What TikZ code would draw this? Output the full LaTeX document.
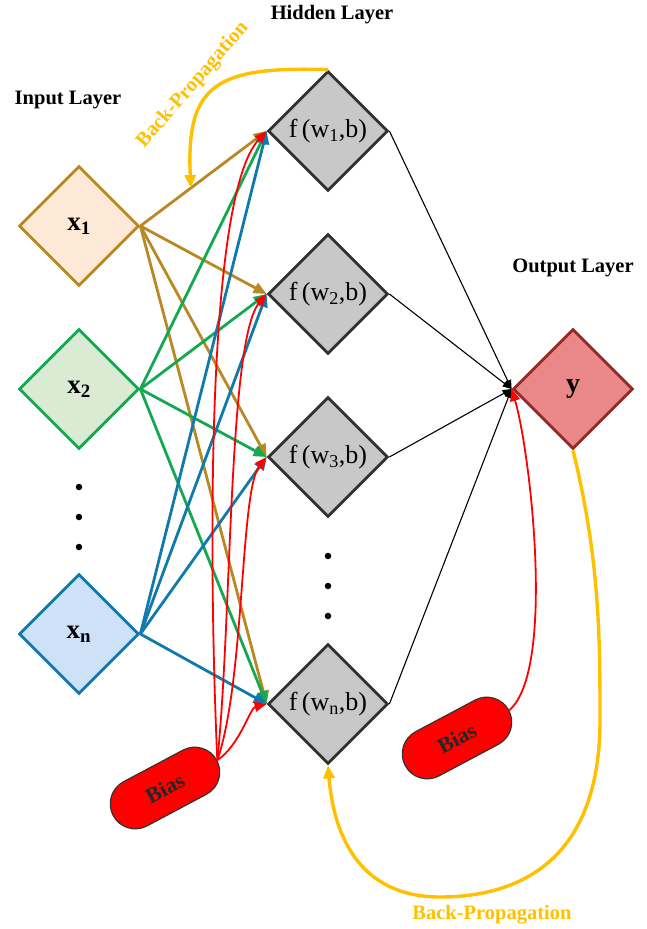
\documentclass[tikz,border=0pt]{standalone}
\usepackage{fontspec}
\setmainfont{Liberation Serif}
\usetikzlibrary{shapes.geometric,shapes.misc,arrows.meta}
\definecolor{cA}{RGB}{184,136,34}
\definecolor{fA}{RGB}{253,233,213}
\definecolor{cB}{RGB}{20,168,80}
\definecolor{fB}{RGB}{217,235,211}
\definecolor{cC}{RGB}{16,122,172}
\definecolor{fC}{RGB}{205,226,246}
\definecolor{cO}{RGB}{255,192,0}
\definecolor{fY}{RGB}{232,136,136}
\definecolor{cY}{RGB}{150,40,40}
\definecolor{fH}{RGB}{200,200,200}
\definecolor{cH}{RGB}{50,50,50}
\begin{document}
\begin{tikzpicture}[x=1pt,y=-1pt,
  dia/.style={diamond,aspect=1,minimum width=120pt,minimum height=120pt,inner sep=0pt,line width=2.8pt},
  inp/.style={dia,font=\fontsize{27}{29}\selectfont\bfseries},
  hid/.style={dia,draw=cH,fill=fH,font=\fontsize{26}{28}\selectfont},
  biasbox/.style={rounded rectangle,draw=cH,fill=red,line width=1.2pt,minimum width=124pt,minimum height=50pt,rotate=28,font=\fontsize{22}{24}\selectfont\bfseries,text=black!85},
  lbl/.style={font=\fontsize{20.5}{22}\selectfont\bfseries},
  conn/.style={line width=2.8pt,-{Triangle[length=13pt,width=11pt]}},
  rconn/.style={red,line width=1.8pt,-{Triangle[length=12pt,width=10pt]}},
  kconn/.style={black,line width=1.1pt,-{Triangle[length=9pt,width=7pt]}},
  bp/.style={cO,line width=3.4pt,-{Triangle[length=13pt,width=11pt]}},
  dotmark/.style={circle,fill=black,inner sep=0pt,minimum size=6.5pt}
]
\useasboundingbox (0,0) rectangle (646,929);
% input nodes
\node[inp,draw=cA,fill=fA] (x1) at (79,226) {x\textsubscript{1}};
\node[inp,draw=cB,fill=fB] (x2) at (79,389) {x\textsubscript{2}};
\node[inp,draw=cC,fill=fC] (xn) at (79,634) {x\textsubscript{n}};
\node[dotmark] (di1) at (79,487) {};
\node[dotmark] (di2) at (79,517) {};
\node[dotmark] (di3) at (79,547) {};
% hidden nodes
\node[hid] (h1) at (328,131) {f\,(w\textsubscript{1},b)};
\node[hid] (h2) at (328,294) {f\,(w\textsubscript{2},b)};
\node[hid] (h3) at (328,457) {f\,(w\textsubscript{3},b)};
\node[hid] (hn) at (328,704) {f\,(w\textsubscript{n},b)};
\node[dotmark] (dh1) at (328,556) {};
\node[dotmark] (dh2) at (328,586) {};
\node[dotmark] (dh3) at (328,616) {};
% output
\node[dia,draw=cY,fill=fY,font=\fontsize{28}{30}\selectfont\bfseries] (y) at (573,389) {y};
% bias
\node[biasbox] (b1) at (165,788) {Bias};
\node[biasbox] (b2) at (457,738) {Bias};
% labels
\node[lbl] (lin) at (68,100) {Input Layer};
\node[lbl] (lhid) at (332,15) {Hidden Layer};
\node[lbl] (lout) at (573,268) {Output Layer};
\node[lbl,text=cO,rotate=49] (lbp1) at (193,85) {Back-Propagation};
\node[lbl,text=cO] (lbp2) at (492,915) {Back-Propagation};
% input -> hidden
\foreach \h in {h1,h2,h3,hn}{
  \draw[conn,cA] (x1.east) -- (\h.west);
}
\foreach \h in {h1,h2,h3,hn}{
  \draw[conn,cB] (x2.east) -- (\h.west);
}
\foreach \h in {h1,h2,h3,hn}{
  \draw[conn,cC] (xn.east) -- (\h.west);
}
% bias -> hidden
\draw[rconn] (b1.east) .. controls (210,600) and (203,200) .. (h1.west);
\draw[rconn] (b1.east) .. controls (232,620) and (228,340) .. (h2.west);
\draw[rconn] (b1.east) .. controls (245,680) and (240,490) .. (h3.west);
\draw[rconn] (b1.east) .. controls (240,745) and (250,708) .. (hn.west);
% hidden -> output
\foreach \h in {h1,h2,h3,hn}{
  \draw[kconn] (\h.east) -- (y.west);
}
% bias -> output
\draw[rconn] (b2.east) .. controls (556,670) and (530,450) .. (y.west);
% back propagation
\path (x1.east) -- (h1.west) coordinate[pos=0.4] (bptip);
\draw[bp] (h1.north) .. controls (215,66) and (186,85) .. (bptip);
\draw[bp] (y.south) .. controls (600,560) and (600,640) .. (600,720)
  .. controls (600,860) and (520,897) .. (440,897)
  .. controls (370,897) and (335,850) .. (hn.south);
\end{tikzpicture}
\end{document}
